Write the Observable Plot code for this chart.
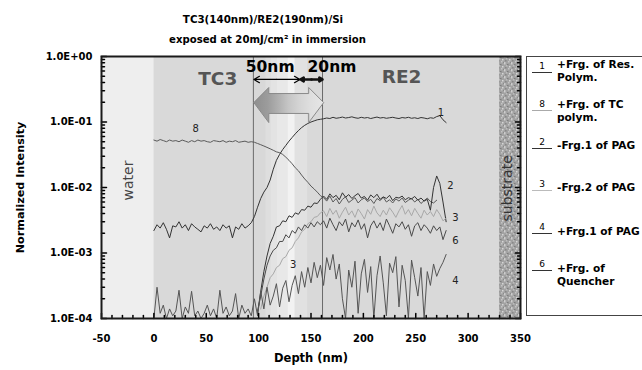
<!DOCTYPE html>
<html>
<head>
<meta charset="utf-8">
<script src="https://cdn.jsdelivr.net/npm/d3@7"></script>
<script src="https://cdn.jsdelivr.net/npm/@observablehq/plot@0.6"></script>
<style>
  html, body { margin: 0; padding: 0; background: #fff; overflow: hidden; }
  #wrap { position: relative; width: 642px; height: 370px; font-family: "DejaVu Sans", sans-serif; overflow: hidden; }
  #wrap svg { position: absolute; left: 0; top: 0; }
  .lg-box { position: absolute; left: 526px; top: 56px; width: 130px; height: 260px; border: 1px solid #444; box-sizing: border-box; }
  .lg-line { position: absolute; left: 532px; width: 20px; height: 0; border-top: 1px solid #333; }
  .lg-num { position: absolute; left: 532px; width: 20px; text-align: center; font-size: 9px; line-height: 10px; }
  .lg-txt { position: absolute; left: 557px; font-size: 10.6px; font-weight: bold; line-height: 13px; white-space: nowrap; }
</style>
</head>
<body>
<div id="wrap"></div>
<script>
// ---------------- data ----------------
const titleLines = ["TC3(140nm)/RE2(190nm)/Si", "exposed at 20mJ/cm\u00B2 in immersion"];
const xLabel = "Depth (nm)";
const yLabel = "Normalized Intensity";

const xTickValues = [-50, 0, 50, 100, 150, 200, 250, 300, 350];
const xTickLabels = ["-50", "0", "50", "100", "150", "200", "250", "300", "350"];
const yTickValues = [1e-4, 1e-3, 1e-2, 1e-1, 1];
const yTickLabels = ["1.0E-04", "1.0E-03", "1.0E-02", "1.0E-01", "1.0E+00"];

const depth = [0,3,6,9,12,15,18,21,24,27,30,33,36,39,42,45,48,51,54,57,60,63,66,69,72,75,78,81,84,87,90,93,
  96,99,102,105,108,111,114,117,120,123,126,129,132,135,138,141,144,147,150,153,156,159,
  162,165,168,171,174,177,180,183,186,189,192,195,198,201,204,207,210,213,216,219,222,225,228,231,234,237,
  240,243,246,249,252,255,258,261,264,267,270,273,276,279];

// 1: +Frg. of Res. Polym.
const resPolym1 = [2.2e-3,2.7e-3,2.4e-3,2.9e-3,2.3e-3,1.7e-3,2.6e-3,2.5e-3,3.0e-3,2.4e-3,2.7e-3,2.2e-3,2.8e-3,2.5e-3,2.3e-3,2.1e-3,
  2.6e-3,2.4e-3,2.8e-3,2.3e-3,2.5e-3,2.2e-3,2.7e-3,2.4e-3,2.6e-3,1.7e-3,2.5e-3,2.3e-3,2.8e-3,2.4e-3,2.6e-3,2.9e-3,
  3.6e-3,5.0e-3,6.8e-3,8.5e-3,1.0e-2,1.3e-2,1.9e-2,2.6e-2,3.2e-2,3.8e-2,4.4e-2,5.1e-2,5.8e-2,6.6e-2,7.4e-2,8.2e-2,8.9e-2,9.5e-2,0.100,0.104,0.108,0.110,
  0.112,0.115,0.113,0.118,0.114,0.116,0.119,0.115,0.117,0.120,0.116,0.114,0.118,0.115,0.117,0.113,0.116,0.119,0.115,0.117,
  0.114,0.116,0.118,0.115,0.113,0.117,0.115,0.118,0.114,0.116,0.113,0.117,0.115,0.112,0.116,0.114,0.121,0.125,0.108,0.098];

// 8: +Frg. of TC polym.
const tcPolym8 = [5.3e-2,5.1e-2,5.4e-2,5.2e-2,5.0e-2,5.3e-2,5.1e-2,5.2e-2,5.0e-2,5.3e-2,5.1e-2,4.9e-2,5.2e-2,5.0e-2,5.3e-2,5.1e-2,
  5.2e-2,5.0e-2,4.9e-2,5.2e-2,5.1e-2,5.0e-2,5.2e-2,4.9e-2,5.1e-2,5.0e-2,5.2e-2,4.9e-2,5.0e-2,5.1e-2,4.9e-2,5.0e-2,
  4.9e-2,4.7e-2,4.5e-2,4.3e-2,4.1e-2,3.9e-2,3.7e-2,3.5e-2,3.4e-2,3.2e-2,2.9e-2,2.6e-2,2.3e-2,2.0e-2,1.8e-2,1.55e-2,1.35e-2,1.2e-2,1.05e-2,9.5e-3,8.5e-3,7.5e-3,
  7.0e-3,6.2e-3,7.4e-3,6.0e-3,6.8e-3,5.6e-3,6.6e-3,7.2e-3,5.9e-3,6.4e-3,7.0e-3,5.8e-3,6.5e-3,6.9e-3,6.1e-3,6.6e-3,5.7e-3,6.8e-3,6.3e-3,7.1e-3,
  6.0e-3,6.5e-3,5.8e-3,6.7e-3,6.2e-3,6.9e-3,5.9e-3,6.4e-3,6.8e-3,6.0e-3,6.6e-3,5.7e-3,6.3e-3,6.9e-3,6.1e-3,5.8e-3,6.4e-3,null,null,null];

// 2: -Frg.1 of PAG
const pagFrag2 = [null,null,null,null,null,null,null,null,null,null,null,null,null,null,null,null,
  null,null,null,null,null,null,null,null,null,null,null,null,null,null,null,null,
  null,1.2e-4,2.6e-4,5.2e-4,9.0e-4,1.4e-3,1.8e-3,2.5e-3,2.6e-3,3.1e-3,3.0e-3,3.7e-3,3.5e-3,4.1e-3,3.9e-3,4.6e-3,4.5e-3,5.2e-3,5.0e-3,5.8e-3,5.7e-3,6.6e-3,
  7.4e-3,6.6e-3,8.0e-3,7.0e-3,7.6e-3,6.5e-3,8.3e-3,7.1e-3,7.8e-3,6.8e-3,7.5e-3,8.1e-3,6.9e-3,7.3e-3,6.4e-3,7.7e-3,7.0e-3,7.9e-3,6.6e-3,7.2e-3,
  6.8e-3,7.6e-3,6.3e-3,7.1e-3,6.9e-3,7.4e-3,6.5e-3,7.0e-3,6.7e-3,7.3e-3,6.4e-3,6.9e-3,6.2e-3,6.6e-3,4.5e-3,1.0e-2,1.5e-2,1.15e-2,6.0e-3,3.0e-3];

// 3: -Frg.2 of PAG
const pagFrag3 = [null,null,null,null,null,null,null,null,null,null,null,null,null,null,null,null,
  null,null,null,null,null,null,null,null,null,null,null,null,null,null,null,null,
  null,null,1.4e-4,2.2e-4,3.0e-4,4.2e-4,4.8e-4,6.0e-4,6.5e-4,8.2e-4,8.8e-4,1.1e-3,1.2e-3,1.5e-3,1.7e-3,2.1e-3,2.3e-3,2.8e-3,3.0e-3,3.5e-3,3.6e-3,4.1e-3,
  4.4e-3,3.6e-3,4.8e-3,3.9e-3,4.5e-3,3.4e-3,4.2e-3,5.0e-3,3.8e-3,4.4e-3,3.5e-3,4.7e-3,4.0e-3,3.3e-3,4.6e-3,3.9e-3,5.2e-3,4.1e-3,3.6e-3,4.5e-3,
  3.8e-3,4.9e-3,4.2e-3,3.5e-3,4.4e-3,5.3e-3,3.9e-3,4.6e-3,3.7e-3,4.8e-3,4.0e-3,3.4e-3,4.5e-3,3.8e-3,4.3e-3,3.6e-3,4.6e-3,3.9e-3,3.1e-3,3.4e-3];

// 4: +Frg.1 of PAG
const pagFrag4 = [1.0e-4,3.0e-4,1.2e-4,1.6e-4,1.0e-4,1.4e-4,1.1e-4,1.3e-4,2.7e-4,1.0e-4,1.5e-4,1.2e-4,2.6e-4,1.1e-4,1.3e-4,1.0e-4,
  1.2e-4,1.6e-4,1.1e-4,1.4e-4,1.0e-4,2.7e-4,1.2e-4,1.5e-4,1.1e-4,1.3e-4,2.4e-4,1.0e-4,1.6e-4,1.2e-4,1.4e-4,1.1e-4,
  2.0e-4,1.1e-4,2.6e-4,1.4e-4,3.0e-4,1.6e-4,2.2e-4,3.4e-4,1.5e-4,2.9e-4,3.8e-4,1.8e-4,3.2e-4,4.5e-4,2.4e-4,5.2e-4,3.0e-4,6.0e-4,3.5e-4,7.2e-4,4.2e-4,6.5e-4,
  3.2e-4,8.5e-4,5.5e-4,9.5e-4,4.0e-4,6.8e-4,2.0e-4,1.0e-4,5.5e-4,3.0e-4,7.5e-4,1.2e-4,4.8e-4,8.0e-4,2.5e-4,6.2e-4,1.0e-4,4.5e-4,9.0e-4,3.5e-4,
  1.1e-4,7.0e-4,5.0e-4,8.8e-4,1.5e-4,6.5e-4,3.8e-4,1.0e-4,7.8e-4,4.2e-4,2.2e-4,6.0e-4,1.0e-4,5.2e-4,3.2e-4,6.8e-4,4.4e-4,5.8e-4,7.2e-4,9.5e-4];

// 6: +Frg. of Quencher
const quencher6 = [null,null,null,null,null,null,null,null,null,null,null,null,null,null,null,null,
  null,null,null,null,null,null,null,null,null,null,null,null,null,null,null,null,
  null,1.3e-4,2.2e-4,4.0e-4,6.5e-4,9.0e-4,1.1e-3,1.2e-3,1.5e-3,1.5e-3,1.9e-3,1.7e-3,2.2e-3,2.0e-3,2.5e-3,2.2e-3,2.7e-3,2.4e-3,2.9e-3,2.5e-3,3.0e-3,2.7e-3,
  3.1e-3,2.4e-3,3.4e-3,2.7e-3,2.2e-3,3.0e-3,2.6e-3,3.3e-3,2.1e-3,2.9e-3,2.5e-3,3.2e-3,2.3e-3,2.8e-3,1.7e-3,2.6e-3,3.1e-3,2.4e-3,2.9e-3,2.2e-3,
  3.3e-3,2.6e-3,2.0e-3,2.8e-3,2.5e-3,3.0e-3,2.3e-3,2.7e-3,1.8e-3,2.6e-3,2.9e-3,2.2e-3,2.7e-3,2.4e-3,2.0e-3,2.6e-3,2.2e-3,2.5e-3,1.6e-3,2.2e-3];

const seriesKeys = ["8", "1", "2", "3", "6", "4"];
const seriesValues = {"1": resPolym1, "8": tcPolym8, "2": pagFrag2, "3": pagFrag3, "4": pagFrag4, "6": quencher6};

const legendNums = ["1", "8", "2", "3", "4", "6"];
const legendTexts = [["+Frg. of Res.", "Polym."], ["+Frg. of TC", "polym."], ["-Frg.1 of PAG"], ["-Frg.2 of PAG"], ["+Frg.1 of PAG"], ["+Frg. of", "Quencher"]];

// layers (nm)
const regionNames = ["water", "film", "substrate"];
const regionStart = [-50, 0, 330];
const regionEnd = [0, 330, 350];
const interfaceEdges = [95, 161];
const bandEdges = [95, 107, 112, 118, 128, 135, 147, 161];

const curveLabelText = ["1", "8", "2", "3", "6", "4", "3"];
const curveLabelX = [274, 40, 283, 288, 288, 288, 133];
const curveLabelY = [0.14, 0.08, 0.0107, 3.5e-3, 1.55e-3, 3.8e-4, 6.5e-4];

const zoneText = ["TC3", "RE2"];
const zoneX = [61, 236.5];
const zoneY = [0.46, 0.48];

const widthText = ["50nm", "20nm"];
const widthX = [111, 170];
const widthY = [0.68, 0.68];
const widthArrowFrom = [117.3, 150.5];
const widthArrowLeft = [95.5, 140];
const widthArrowRight = [139.5, 161];
const widthArrowY = 0.446;

// big double arrow outline (nm, intensity)
const bigArrowX = [95.4, 109.7, 109.7, 147.8, 147.8, 162.1, 147.8, 147.8, 109.7, 109.7, 95.4];
const bigArrowY = [0.198, 0.336, 0.272, 0.272, 0.336, 0.198, 0.098, 0.135, 0.135, 0.098, 0.198];

// ---------------- build ----------------
const colors = {"1": "#333", "8": "#5a5a5a", "2": "#333", "3": "#a8a8a8", "4": "#555", "6": "#4a4a4a"};
const legendColors = {"1": "#333", "8": "#aaa", "2": "#333", "3": "#bbb", "4": "#333", "6": "#333"};
const regionFill = {water: "#eeeeee", film: "#d9d9d9"};
const bandFill = ["#d8d8d8", "#dedede", "#e3e3e3", "#e8e8e8", "#f2f2f2", "#e1e1e1", "#d9d9d9"];

const rows = [];
for (const k of seriesKeys) {
  seriesValues[k].forEach((v, i) => { if (v != null) rows.push({series: k, depth: depth[i], value: v}); });
}
const regions = regionNames.map((n, i) => ({name: n, x1: regionStart[i], x2: regionEnd[i]}));
const bands = bandFill.map((f, i) => ({x1: bandEdges[i], x2: bandEdges[i + 1], i}));
const bigArrow = bigArrowX.map((x, i) => ({x, y: bigArrowY[i]}));
const curveLabels = curveLabelText.map((t, i) => ({t, x: curveLabelX[i], y: curveLabelY[i]}));
const zones = zoneText.map((t, i) => ({t, x: zoneX[i], y: zoneY[i]}));
const widths = widthText.map((t, i) => ({t, x: widthX[i], y: widthY[i]}));

const xMinor = d3.range(-50, 351, 10).filter(v => v % 50 !== 0);
const yMinor = [];
for (let e = -4; e < 0; e++) for (let m = 2; m <= 9; m++) yMinor.push(m * Math.pow(10, e));
const tickShape = {draw(context, l) { context.moveTo(0, 0); context.lineTo(0, -l); }};

const svg = Plot.plot({
  width: 642, height: 370,
  marginTop: 56, marginBottom: 52, marginLeft: 101, marginRight: 122,
  x: {domain: [-50, 350]},
  y: {type: "log", domain: [1e-4, 1]},
  style: {fontFamily: "'DejaVu Sans', sans-serif", fontSize: "10px", fontWeight: "bold", background: "transparent", color: "#000", overflow: "visible"},
  marks: [
    Plot.rect(regions.filter(d => d.name !== "substrate"), {x1: "x1", x2: "x2", y1: 1e-4, y2: 1, fill: d => regionFill[d.name]}),
    Plot.rect(regions.filter(d => d.name === "substrate"), {x1: "x1", x2: "x2", y1: 1e-4, y2: 1, fill: "url(#substrateTex)"}),
    Plot.rect(bands, {x1: "x1", x2: "x2", y1: 1e-4, y2: 1, fill: d => bandFill[d.i]}),
    Plot.ruleX(interfaceEdges, {stroke: "#6a6a6a", strokeWidth: 1}),
    Plot.text(["water"], {x: -24, y: 0.0128, rotate: -90, fontSize: 14, fontWeight: "normal", fill: "#444"}),
    Plot.text(["substrate"], {x: 337.6, y: 0.0097, rotate: -90, fontSize: 14, fontWeight: "normal", fill: "#333"}),
    ...seriesKeys.map(k => Plot.line(rows.filter(d => d.series === k), {x: "depth", y: "value", stroke: colors[k], strokeWidth: 1, clip: true})),
    Plot.line(bigArrow, {x: "x", y: "y", fill: "url(#arrowGrad)", stroke: "#8a8a8a", strokeWidth: 1}),
    Plot.arrow([0], {x1: () => widthArrowFrom[0], x2: () => widthArrowLeft[0], y1: widthArrowY, y2: widthArrowY, stroke: "#000", strokeWidth: 1.2, headLength: 8}),
    Plot.arrow([0], {x1: () => widthArrowFrom[0], x2: () => widthArrowRight[0], y1: widthArrowY, y2: widthArrowY, stroke: "#000", strokeWidth: 1.2, headLength: 8}),
    Plot.arrow([0], {x1: () => widthArrowFrom[1], x2: () => widthArrowLeft[1], y1: widthArrowY, y2: widthArrowY, stroke: "#111", strokeWidth: 2.6, headLength: 6}),
    Plot.arrow([0], {x1: () => widthArrowFrom[1], x2: () => widthArrowRight[1], y1: widthArrowY, y2: widthArrowY, stroke: "#111", strokeWidth: 2.6, headLength: 6}),
    Plot.text(zones, {x: "x", y: "y", text: "t", fontSize: 18.5, fill: "#555"}),
    Plot.text(widths, {x: "x", y: "y", text: "t", fontSize: 15.5, fill: "#000"}),
    Plot.text(curveLabels, {x: "x", y: "y", text: "t", fontSize: 10, fontWeight: "normal", fill: "#222"}),
    // inward ticks
    Plot.vector(xMinor, {x: d => d, y: 1e-4, length: 3, rotate: 0, anchor: "start", shape: tickShape, stroke: "#000"}),
    Plot.vector(xTickValues, {x: d => d, y: 1e-4, length: 5, rotate: 0, anchor: "start", shape: tickShape, stroke: "#000"}),
    Plot.vector(yMinor, {x: -50, y: d => d, length: 3, rotate: 90, anchor: "start", shape: tickShape, stroke: "#000"}),
    Plot.vector(yTickValues, {x: -50, y: d => d, length: 5, rotate: 90, anchor: "start", shape: tickShape, stroke: "#000"}),
    Plot.vector(yMinor, {x: 350, y: d => d, length: 3, rotate: -90, anchor: "start", shape: tickShape, stroke: "#000"}),
    Plot.vector(yTickValues, {x: 350, y: d => d, length: 5, rotate: -90, anchor: "start", shape: tickShape, stroke: "#000"}),
    Plot.frame({stroke: "#1a1a1a", strokeWidth: 2}),
    Plot.axisX(xTickValues, {tickSize: 0, tickPadding: 16, fontSize: 10, tickFormat: d => xTickLabels[xTickValues.indexOf(d)]}),
    Plot.axisY(yTickValues, {tickSize: 0, tickPadding: 9, fontSize: 10, tickFormat: d => yTickLabels[yTickValues.indexOf(d)]}),
    Plot.text([yLabel], {frameAnchor: "left", dx: -81, rotate: -90, textAnchor: "middle", lineAnchor: "middle", fontSize: 11.2}),
    Plot.text([xLabel], {frameAnchor: "bottom", dy: 40, textAnchor: "middle", lineAnchor: "middle", fontSize: 11.5}),
    Plot.text([titleLines[0]], {frameAnchor: "top", dx: -48, dy: -37, lineAnchor: "middle", fontSize: 10.3}),
    Plot.text([titleLines[1]], {frameAnchor: "top", dx: -43.5, dy: -17, lineAnchor: "middle", fontSize: 10.1})
  ]
});

// defs: substrate texture and arrow gradient
const defs = d3.select(svg).insert("defs", ":first-child");
const pat = defs.append("pattern").attr("id", "substrateTex").attr("patternUnits", "userSpaceOnUse").attr("width", 7).attr("height", 7);
pat.append("rect").attr("width", 7).attr("height", 7).attr("fill", "#a2a2a2");
[[0,0,"#cfcfcf"],[3,1,"#7d7d7d"],[5,3,"#d6d6d6"],[1,4,"#888"],[4,5,"#c4c4c4"],[6,6,"#8a8a8a"],[2,2,"#bdbdbd"],[0,6,"#cacaca"]].forEach(([x, y, c]) =>
  pat.append("rect").attr("x", x).attr("y", y).attr("width", 1.5).attr("height", 1.5).attr("fill", c));
const grad = defs.append("linearGradient").attr("id", "arrowGrad").attr("x1", "0").attr("x2", "1").attr("y1", "0").attr("y2", "0");
[[0, "#8e8e8e"], [0.2, "#9c9c9c"], [0.35, "#b0b0b0"], [0.5, "#c6c6c6"], [0.65, "#d4d4d4"], [0.8, "#dedede"], [1, "#e6e6e6"]].forEach(([o, c]) =>
  grad.append("stop").attr("offset", o).attr("stop-color", c));

const wrap = document.getElementById("wrap");
wrap.appendChild(svg);

// legend (HTML, outside the plot frame)
const legendLineY = [72, 110, 148, 190, 233, 270];
const legendTextY = [64, 104, 145, 187, 231, 268];
const box = document.createElement("div");
box.className = "lg-box";
wrap.appendChild(box);
legendNums.forEach((n, i) => {
  const line = document.createElement("div");
  line.className = "lg-line";
  line.style.top = legendLineY[i] + "px";
  line.style.borderTopColor = legendColors[n];
  wrap.appendChild(line);
  const num = document.createElement("div");
  num.className = "lg-num";
  num.style.top = (legendLineY[i] - 11) + "px";
  num.textContent = n;
  wrap.appendChild(num);
  legendTexts[i].forEach((t, j) => {
    const tx = document.createElement("div");
    tx.className = "lg-txt";
    tx.style.top = (legendTextY[i] - 6.5 + j * 13) + "px";
    tx.textContent = t;
    wrap.appendChild(tx);
  });
});
</script>
</body>
</html>
